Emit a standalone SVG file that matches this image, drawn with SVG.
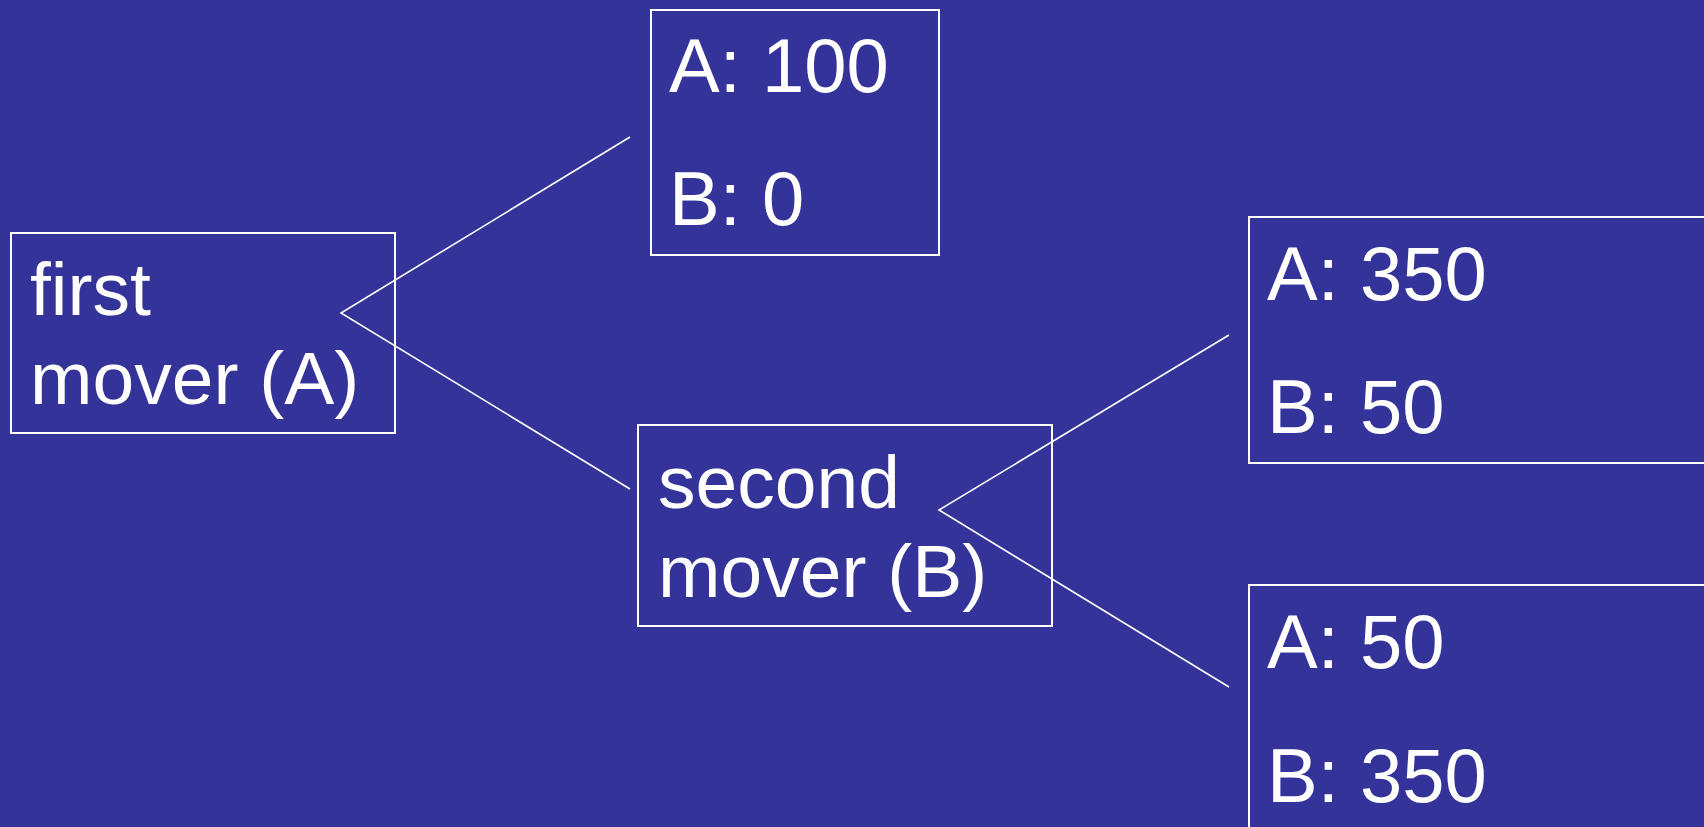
<svg xmlns="http://www.w3.org/2000/svg" width="1704" height="827" viewBox="0 0 1704 827">
  <style>
    .box { fill: none; stroke: #ffffff; stroke-width: 2; }
    .edge { fill: none; stroke: #ffffff; stroke-width: 1.6; }
    .lbl { font-family: "Liberation Sans", Arial, sans-serif; font-size: 75px; fill: #ffffff; }
    .pay { font-family: "Liberation Sans", Arial, sans-serif; font-size: 76px; fill: #ffffff; }
  </style>
  <rect x="0" y="0" width="1704" height="827" fill="#343399"/>

  <g id="connectors">
    <polyline class="edge" points="630,137 341,313 630,489"/>
    <polyline class="edge" points="1229,335 939,510 1229,687"/>
  </g>

  <g id="first-mover">
    <rect class="box" x="11" y="233" width="384" height="200"/>
    <text class="lbl" x="30" y="315">first</text>
    <text class="lbl" x="30" y="404">mover (A)</text>
  </g>

  <g id="payoff-top">
    <rect class="box" x="651" y="10" width="288" height="245"/>
    <text class="pay" x="669" y="92">A: 100</text>
    <text class="pay" x="669" y="225">B: 0</text>
  </g>

  <g id="second-mover">
    <rect class="box" x="638" y="425" width="414" height="201"/>
    <text class="lbl" x="658" y="508">second</text>
    <text class="lbl" x="658" y="597">mover (B)</text>
  </g>

  <g id="payoff-mid">
    <rect class="box" x="1249" y="217" width="480" height="246"/>
    <text class="pay" x="1267" y="300">A: 350</text>
    <text class="pay" x="1267" y="433">B: 50</text>
  </g>

  <g id="payoff-bottom">
    <rect class="box" x="1249" y="585" width="480" height="260"/>
    <text class="pay" x="1267" y="668">A: 50</text>
    <text class="pay" x="1267" y="802">B: 350</text>
  </g>
</svg>
